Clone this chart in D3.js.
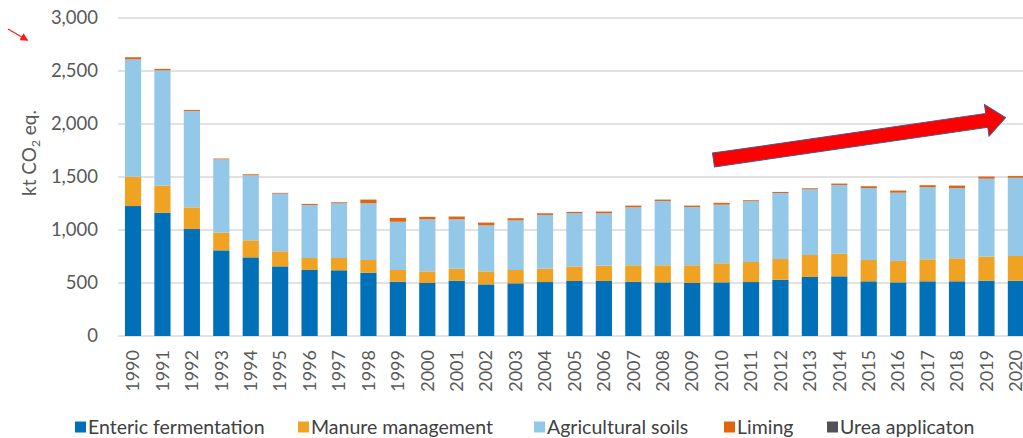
<!DOCTYPE html>
<html>
<head>
<meta charset="utf-8">
<script src="https://cdn.jsdelivr.net/npm/d3@7"></script>
<style>
  html, body { margin: 0; padding: 0; background: #fff; }
  svg { display: block; }
</style>
</head>
<body>
<div id="chart"></div>
<script>
var years = ['1990', '1991', '1992', '1993', '1994', '1995', '1996', '1997', '1998', '1999',
  '2000', '2001', '2002', '2003', '2004', '2005', '2006', '2007', '2008', '2009',
  '2010', '2011', '2012', '2013', '2014', '2015', '2016', '2017', '2018', '2019', '2020'];

var enteric = [1226, 1163, 1009, 808, 742, 657, 623, 620, 597, 512,
  500, 522, 487, 497, 509, 519, 519, 512, 506, 500,
  506, 509, 531, 557, 563, 516, 506, 516, 516, 522, 522];
var manure = [277, 255, 205, 167, 161, 142, 113, 116, 120, 111,
  110, 113, 123, 126, 126, 135, 144, 155, 161, 167,
  180, 189, 195, 207, 213, 201, 202, 208, 217, 226, 233];
var soils = [1107, 1088, 909, 692, 613, 544, 500, 516, 535, 455,
  491, 466, 434, 468, 507, 506, 494, 547, 607, 550,
  553, 573, 623, 620, 649, 679, 644, 679, 663, 736, 738];
var liming = [19, 13, 9, 6, 9, 6, 9, 9, 34, 35,
  22, 25, 25, 19, 15, 10, 16, 15, 12, 12,
  16, 9, 9, 9, 12, 16, 19, 19, 22, 19, 16];
var urea = [1, 1, 1, 1, 1, 1, 1, 1, 1, 1,
  1, 1, 1, 1, 1, 1, 1, 1, 1, 1,
  1, 1, 1, 1, 1, 1, 1, 1, 1, 1, 1];

var seriesNames = ['Enteric fermentation', 'Manure management', 'Agricultural soils', 'Liming', 'Urea applicaton'];
var seriesColors = ['#0070b8', '#f0a323', '#93c8e8', '#e2640e', '#505257'];
var yTicks = [0, 500, 1000, 1500, 2000, 2500, 3000];

// trend arrow annotation, in data units
var arrowFrom = {year: '2010', value: 1660};
var arrowTo = {year: '2019', value: 2060};

var width = 1023, height = 438;
var fontFamily = 'Lato, "Open Sans", sans-serif';
var textColor = '#595959';

var keys = ['enteric', 'manure', 'soils', 'liming', 'urea'];
var table = years.map(function(y, i) {
  return {year: y, enteric: enteric[i], manure: manure[i], soils: soils[i], liming: liming[i], urea: urea[i]};
});
var stacked = d3.stack().keys(keys)(table);

var xScale = d3.scaleBand()
  .domain(years)
  .range([118.3, 1030.6])
  .paddingInner(0.45)
  .paddingOuter(0.225);

var yScale = d3.scaleLinear()
  .domain([0, 3000])
  .range([336, 18]);

var svg = d3.select('#chart').append('svg')
  .attr('width', width)
  .attr('height', height);

// gridlines
svg.append('g')
    .attr('class', 'grid')
  .selectAll('line')
    .data(yTicks)
  .enter().append('line')
    .attr('x1', 118)
    .attr('x2', width)
    .attr('y1', function(d) { return yScale(d); })
    .attr('y2', function(d) { return yScale(d); })
    .attr('stroke', '#d9d9d9')
    .attr('stroke-width', 1.5);

// y tick labels
svg.append('g')
    .attr('font-family', fontFamily)
    .attr('font-size', 18.5)
    .attr('fill', textColor)
    .attr('text-anchor', 'end')
  .selectAll('text')
    .data(yTicks)
  .enter().append('text')
    .attr('x', 98)
    .attr('y', function(d) { return yScale(d); })
    .attr('dy', '0.35em')
    .text(d3.format(','));

// bars
svg.append('g')
    .attr('class', 'bars')
  .selectAll('g')
    .data(stacked)
  .enter().append('g')
    .attr('fill', function(d, i) { return seriesColors[i]; })
  .selectAll('rect')
    .data(function(d) { return d; })
  .enter().append('rect')
    .attr('x', function(d) { return xScale(d.data.year); })
    .attr('width', xScale.bandwidth())
    .attr('y', function(d) { return yScale(d[1]); })
    .attr('height', function(d) { return yScale(d[0]) - yScale(d[1]); });

// x labels (rotated)
svg.append('g')
    .attr('font-family', fontFamily)
    .attr('font-size', 18)
    .attr('fill', textColor)
    .attr('text-anchor', 'end')
  .selectAll('text')
    .data(years)
  .enter().append('text')
    .attr('transform', function(d) {
      return 'translate(' + (xScale(d) + xScale.bandwidth() / 2) + ',' + 350 + ') rotate(-90)';
    })
    .attr('dy', '0.35em')
    .text(function(d) { return d; });

// y axis title
var yTitle = svg.append('text')
    .attr('transform', 'translate(29,153) rotate(-90)')
    .attr('font-family', fontFamily)
    .attr('font-size', 19)
    .attr('fill', textColor)
    .attr('text-anchor', 'middle')
    .attr('dy', '0.35em');
yTitle.append('tspan').text('kt CO');
yTitle.append('tspan').attr('font-size', 12).attr('dy', 4).text('2');
yTitle.append('tspan').attr('dy', -4).text(' eq.');

// legend
var legendX = [75, 298, 534, 724, 827];
var legend = svg.append('g')
    .attr('font-family', fontFamily)
    .attr('font-size', 19.5)
    .attr('fill', '#404040');

var items = legend.selectAll('g')
    .data(seriesNames)
  .enter().append('g')
    .attr('transform', function(d, i) { return 'translate(' + legendX[i] + ',' + 427 + ')'; });

items.append('rect')
    .attr('y', -5.5)
    .attr('width', 11)
    .attr('height', 11)
    .attr('fill', function(d, i) { return seriesColors[i]; });

items.append('text')
    .attr('x', 13)
    .attr('dy', '0.35em')
    .text(function(d) { return d; });

// big trend arrow
var x0 = xScale(arrowFrom.year), y0 = yScale(arrowFrom.value);
var x1 = xScale(arrowTo.year) + xScale.bandwidth() + 11, y1 = yScale(arrowTo.value);
var len = Math.sqrt((x1 - x0) * (x1 - x0) + (y1 - y0) * (y1 - y0));
var ang = Math.atan2(y1 - y0, x1 - x0) * 180 / Math.PI;
var shaft = 7, head = 16, headLen = 19;
svg.append('path')
    .attr('transform', 'translate(' + x0 + ',' + y0 + ') rotate(' + ang + ')')
    .attr('d', 'M0,' + (-shaft) + 'L' + (len - headLen) + ',' + (-shaft) +
      'L' + (len - headLen) + ',' + (-head) + 'L' + len + ',0' +
      'L' + (len - headLen) + ',' + head + 'L' + (len - headLen) + ',' + shaft +
      'L0,' + shaft + 'Z')
    .attr('fill', '#ff0000')
    .attr('stroke', '#41598a')
    .attr('stroke-width', 1);

// small red pointer at top left
svg.append('defs').append('marker')
    .attr('id', 'tip')
    .attr('viewBox', '0 0 10 10')
    .attr('refX', 8)
    .attr('refY', 5)
    .attr('markerWidth', 8)
    .attr('markerHeight', 8)
    .attr('markerUnits', 'userSpaceOnUse')
    .attr('orient', 'auto')
  .append('path')
    .attr('d', 'M0,0L10,5L0,10Z')
    .attr('fill', '#ff1a1a');

svg.append('line')
    .attr('x1', 8).attr('y1', 29)
    .attr('x2', 27).attr('y2', 40)
    .attr('stroke', '#ff1a1a')
    .attr('stroke-width', 1.2)
    .attr('marker-end', 'url(#tip)');
</script>
</body>
</html>
